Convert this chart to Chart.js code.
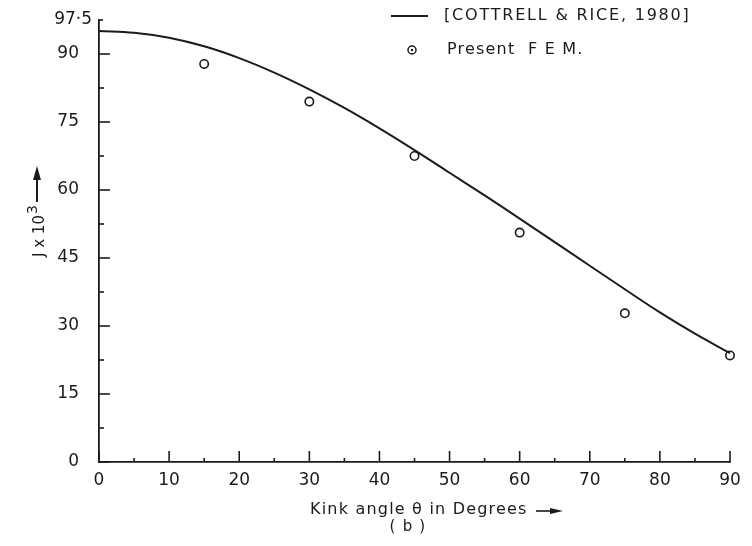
<!DOCTYPE html>
<html>
<head>
<meta charset="utf-8">
<script src="https://cdn.jsdelivr.net/npm/chart.js@4.4.0/dist/chart.umd.min.js"></script>
<style>
  html, body { margin: 0; padding: 0; background: #fff; }
  #wrap { width: 752px; height: 546px; }
</style>
</head>
<body>
<div id="wrap"><canvas id="kinkChart"></canvas></div>
<script>
// Cottrell & Rice curve
const angles = [0, 5, 10, 15, 20, 25, 30, 35, 40, 45, 50, 55, 60, 65, 70, 75, 80, 85, 90];
const cottrellRice = [95.1, 94.7, 93.6, 91.7, 89.1, 85.9, 82.2, 78.1, 73.6, 68.8, 63.8, 58.8, 53.7, 48.5, 43.3, 38.1, 33.0, 28.3, 24.0];

// present FEM points
const femAngles = [15, 30, 45, 60, 75, 90];
const femJ = [87.8, 79.5, 67.5, 50.6, 32.8, 23.5];

// ticks
const xTicks = [0, 10, 20, 30, 40, 50, 60, 70, 80, 90];
const xMinor = [5, 15, 25, 35, 45, 55, 65, 75, 85];
const yTicks = [0, 15, 30, 45, 60, 75, 90];
const yMinor = [7.5, 22.5, 37.5, 52.5, 67.5, 82.5];
const yTop = 97.5;

const INK = '#1b1b1b';
const FONT = '"DejaVu Sans", sans-serif';

// 눈금, 축 제목, 범례 직접 그리기
const decorPlugin = {
  id: 'decor',
  afterDraw(chart) {
    const ctx = chart.ctx;
    const xs = chart.scales.x;
    const ys = chart.scales.y;
    const x0 = xs.getPixelForValue(0);
    const y0 = ys.getPixelForValue(0);

    ctx.save();
    ctx.strokeStyle = INK;
    ctx.fillStyle = INK;
    ctx.lineWidth = 1.6;

    // x ticks (inward)
    xTicks.forEach(v => {
      const px = xs.getPixelForValue(v);
      ctx.beginPath(); ctx.moveTo(px, y0); ctx.lineTo(px, y0 - 11); ctx.stroke();
    });
    xMinor.forEach(v => {
      const px = xs.getPixelForValue(v);
      ctx.beginPath(); ctx.moveTo(px, y0); ctx.lineTo(px, y0 - 4); ctx.stroke();
    });
    // y ticks (inward)
    yTicks.forEach(v => {
      const py = ys.getPixelForValue(v);
      ctx.beginPath(); ctx.moveTo(x0, py); ctx.lineTo(x0 + 11, py); ctx.stroke();
    });
    yMinor.forEach(v => {
      const py = ys.getPixelForValue(v);
      ctx.beginPath(); ctx.moveTo(x0, py); ctx.lineTo(x0 + 5, py); ctx.stroke();
    });
    const pyTop = ys.getPixelForValue(yTop);
    ctx.beginPath(); ctx.moveTo(x0, pyTop); ctx.lineTo(x0 + 4, pyTop); ctx.stroke();
    ctx.font = '17px ' + FONT;
    ctx.textAlign = 'right';
    ctx.textBaseline = 'middle';
    ctx.fillText('97·5', x0 - 7, pyTop);

    // y title
    ctx.save();
    ctx.translate(40, 236);
    ctx.rotate(-Math.PI / 2);
    ctx.font = '15px ' + FONT;
    ctx.textAlign = 'center';
    ctx.textBaseline = 'middle';
    ctx.fillText('J x 10', 0, 0);
    ctx.font = '14px ' + FONT;
    ctx.textAlign = 'left';
    ctx.fillText('3', 22, -7);
    ctx.restore();
    ctx.lineWidth = 2;
    ctx.beginPath(); ctx.moveTo(37, 202); ctx.lineTo(37, 178); ctx.stroke();
    ctx.beginPath(); ctx.moveTo(37, 166); ctx.lineTo(33, 180); ctx.lineTo(41, 180); ctx.closePath(); ctx.fill();

    // x title
    ctx.font = '16px ' + FONT;
    ctx.letterSpacing = '1.2px';
    ctx.textAlign = 'left';
    ctx.textBaseline = 'middle';
    ctx.fillText('Kink angle θ in Degrees', 310, 510);
    ctx.lineWidth = 1.6;
    ctx.beginPath(); ctx.moveTo(536, 511); ctx.lineTo(552, 511); ctx.stroke();
    ctx.beginPath(); ctx.moveTo(563, 511); ctx.lineTo(550, 508); ctx.lineTo(550, 514); ctx.closePath(); ctx.fill();
    ctx.font = '15px ' + FONT;
    ctx.textAlign = 'center';
    ctx.fillText('( b )', 408, 527);

    // legend
    ctx.lineWidth = 1.8;
    ctx.beginPath(); ctx.moveTo(391, 16); ctx.lineTo(428, 16); ctx.stroke();
    ctx.font = '16px ' + FONT;
    ctx.letterSpacing = '1.8px';
    ctx.textAlign = 'left';
    ctx.fillText('[COTTRELL & RICE, 1980]', 444, 16);
    ctx.lineWidth = 1.5;
    ctx.beginPath(); ctx.arc(412, 50, 4, 0, Math.PI * 2); ctx.stroke();
    ctx.beginPath(); ctx.arc(412, 50, 1.2, 0, Math.PI * 2); ctx.fill();
    ctx.letterSpacing = '1.2px';
    ctx.fillText('Present  F E M.', 447, 50);

    ctx.restore();
  }
};

const ctx = document.getElementById('kinkChart');
new Chart(ctx, {
  type: 'scatter',
  data: {
    datasets: [
      {
        label: 'Cottrell & Rice',
        data: angles.map((a, i) => ({ x: a, y: cottrellRice[i] })),
        showLine: true,
        borderColor: INK,
        borderWidth: 2,
        pointRadius: 0,
        tension: 0.4,
        clip: false
      },
      {
        label: 'Present FEM',
        data: femAngles.map((a, i) => ({ x: a, y: femJ[i] })),
        showLine: false,
        pointRadius: 4.2,
        pointBorderWidth: 1.6,
        pointBorderColor: INK,
        pointBackgroundColor: '#fff',
        clip: false
      }
    ]
  },
  options: {
    responsive: true,
    maintainAspectRatio: false,
    animation: false,
    layout: { padding: { left: 0, right: 22, top: 20, bottom: 0 } },
    plugins: { legend: { display: false }, tooltip: { enabled: false } },
    scales: {
      x: {
        type: 'linear',
        min: 0,
        max: 90,
        afterBuildTicks: scale => { scale.ticks = xTicks.map(v => ({ value: v })); },
        afterFit: scale => { scale.height = 84; scale.paddingLeft = 0; scale.paddingRight = 0; },
        grid: { display: false, drawTicks: false },
        border: { display: true, color: INK, width: 1.8 },
        ticks: {
          padding: 8,
          color: INK,
          font: { family: FONT, size: 17 },
          maxRotation: 0
        }
      },
      y: {
        type: 'linear',
        min: 0,
        max: yTop,
        afterBuildTicks: scale => { scale.ticks = yTicks.map(v => ({ value: v })); },
        afterFit: scale => { scale.width = 99; scale.paddingTop = 0; scale.paddingBottom = 0; },
        grid: { display: false, drawTicks: false },
        border: { display: true, color: INK, width: 1.8 },
        ticks: {
          padding: 20,
          color: INK,
          font: { family: FONT, size: 17 }
        }
      }
    }
  },
  plugins: [decorPlugin]
});
</script>
</body>
</html>
